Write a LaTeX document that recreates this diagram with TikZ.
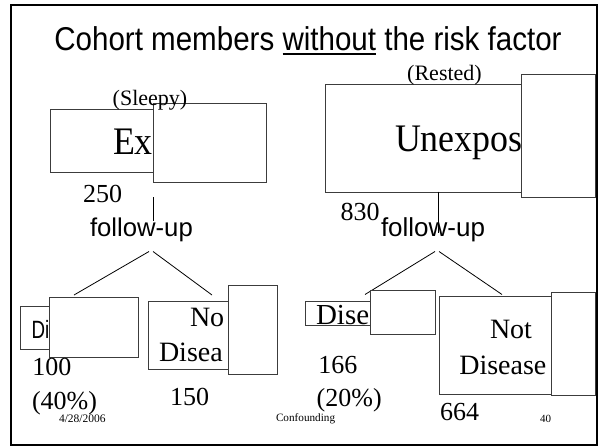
\documentclass[tikz,border=0pt]{standalone}
\usepackage{fontspec}
\setmainfont{Liberation Serif}
\setsansfont{Liberation Sans}
\definecolor{boxgray}{HTML}{3C3C3C}
\newcommand\fsz[1]{\fontsize{#1}{#1}\selectfont}
% thick underline for a single word
\newcommand\ulword[1]{\setbox0\hbox{#1}\rlap{\rule[-5pt]{\wd0}{2pt}}\box0\relax}
\tikzset{
  txt/.style={inner sep=0pt, outer sep=0pt, anchor=base west},
  ctxt/.style={inner sep=0pt, outer sep=0pt, anchor=base},
  rbox/.style={draw=boxgray, line width=1pt, inner sep=0pt, outer sep=0pt, anchor=north west},
  cover/.style={rbox, fill=white},
  link/.style={draw=black, line width=0.8pt},
}
\begin{document}
\begin{tikzpicture}[x=1pt, y=-1pt]
\useasboundingbox (0,0) rectangle (600,447);
% slide frame
\draw[line width=2pt] (11,5) rectangle (597,445);

% heading
\node[ctxt, font=\sffamily\fsz{33}, xscale=0.895] (title) at (308,50)
  {Cohort members \ulword{without} the risk factor};

% ---- left cohort (Sleepy) ----
\node[rbox, minimum width=150pt, minimum height=63pt] (exbox) at (50,109) {};
\node[txt, font=\fsz{39}, xscale=0.92] (ex) at (113,154) {Ex};
\node[cover, minimum width=113pt, minimum height=79pt] (excover) at (153,103) {};
\node[ctxt, font=\fsz{22}] (sleepy) at (150,105) {(Sleepy)};
\node[txt, font=\fsz{26}] (n250) at (83,202) {250};
\coordinate (lvtop) at (153,197);
\coordinate (lvbot) at (153,221);
\draw[link] (lvtop) -- (lvbot);
\node[txt, font=\sffamily\fsz{25.7}] (fuL) at (90,236) {follow-up};
\coordinate (lapexA) at (149,251.5);
\coordinate (lapexB) at (153,251.5);
\coordinate (lendA) at (74,295);
\coordinate (lendB) at (212,295);
\draw[link] (lapexA) -- (lendA);
\draw[link] (lapexB) -- (lendB);

% diseased, left
\node[rbox, minimum width=60pt, minimum height=43pt] (dibox) at (20.7,306) {};
\node[txt, font=\sffamily\fsz{25}, xscale=0.75] (di) at (31.7,338) {Di};
\node[cover, minimum width=89pt, minimum height=60pt] (dicover) at (49.3,297.7) {};
\node[txt, font=\fsz{26}] (n100) at (32.3,375) {100};
\node[txt, font=\fsz{26}] (p40) at (32,409) {(40\%)};

% not diseased, left
\node[rbox, minimum width=100pt, minimum height=68pt] (ndLbox) at (148.3,301) {};
\node[txt, font=\fsz{28}] (noL) at (190,326) {No};
\node[txt, font=\fsz{28}] (diseaL) at (159,361.7) {Disea};
\node[cover, minimum width=49pt, minimum height=89pt] (ndLcover) at (228,285) {};
\node[txt, font=\fsz{26}] (n150) at (170,405) {150};

% ---- right cohort (Rested) ----
\node[rbox, minimum width=220pt, minimum height=108pt] (unbox) at (325.7,84) {};
\node[txt, font=\fsz{39}, xscale=0.92] (unexp) at (395,151.7) {Unexpos};
\node[cover, minimum width=74pt, minimum height=123pt] (uncover) at (521.7,74) {};
\node[ctxt, font=\fsz{22}] (rested) at (444.5,80) {(Rested)};
\coordinate (rvtop) at (438.3,191.7);
\coordinate (rvbot) at (438.3,233);
\draw[link] (rvtop) -- (rvbot);
\node[txt, font=\fsz{26}] (n830) at (340.7,220) {830};
\node[txt, font=\sffamily\fsz{26}] (fuR) at (381,236.7) {follow-up};
\coordinate (rapexA) at (435,251.5);
\coordinate (rapexB) at (439,251.5);
\coordinate (rendA) at (365,294.5);
\coordinate (rendB) at (502,294.5);
\draw[link] (rapexA) -- (rendA);
\draw[link] (rapexB) -- (rendB);

% diseased, right
\node[rbox, minimum width=80pt, minimum height=24pt] (diseRbox) at (305.7,301) {};
\node[txt, font=\fsz{29}] (diseR) at (316,324) {Dise};
\node[cover, minimum width=65pt, minimum height=44pt] (diseRcover) at (370,290.7) {};
\node[txt, font=\fsz{26}] (n166) at (318.3,373.3) {166};
\node[txt, font=\fsz{26}] (p20) at (316.7,406.7) {(20\%)};

% not diseased, right
\node[rbox, minimum width=130pt, minimum height=98pt] (ndRbox) at (439,296) {};
\node[txt, font=\fsz{28}] (notR) at (490,338.3) {Not};
\node[txt, font=\fsz{28}] (diseaseR) at (459.3,374.3) {Disease};
\node[cover, minimum width=44pt, minimum height=103pt] (ndRcover) at (551.7,292.3) {};
\node[txt, font=\fsz{26}] (n664) at (440,420) {664};

% footer
\node[txt, font=\fsz{11.5}] (date) at (59,422.7) {4/28/2006};
\node[txt, font=\fsz{11.2}] (conf) at (276,421.7) {Confounding};
\node[txt, font=\fsz{11}] (page) at (540,422.7) {40};
\end{tikzpicture}
\end{document}
